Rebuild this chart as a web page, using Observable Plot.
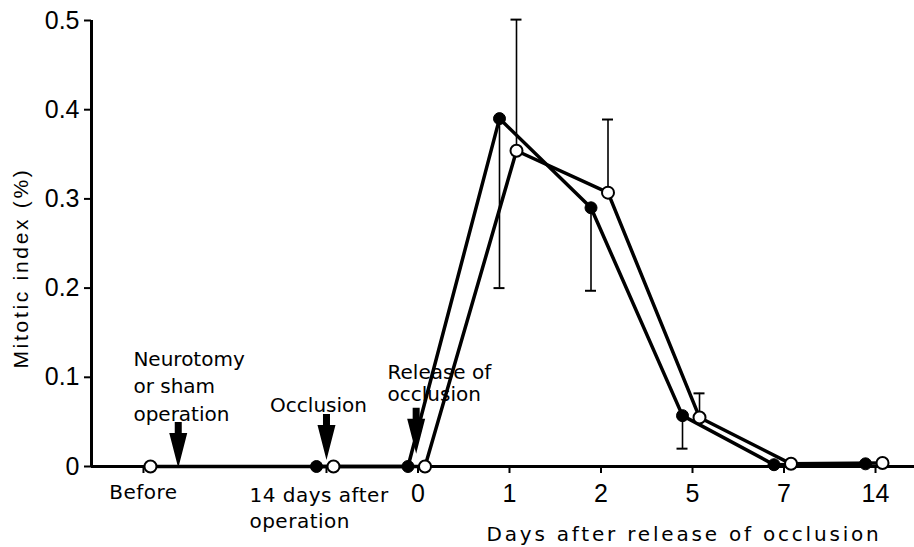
<!DOCTYPE html>
<html><head><meta charset="utf-8">
<script src="https://cdn.jsdelivr.net/npm/d3@7"></script>
<script src="https://cdn.jsdelivr.net/npm/@observablehq/plot@0.6"></script>
<style>body{margin:0;background:#fff} svg{display:block}</style>
</head><body><div id="chart"></div>
<script>
// Categories along the time axis (an empty slot sits between "Before" and "14 days after")
const categories = ["Before", "14 days after\noperation", "0", "1", "2", "5", "7", "14"];
const slots = [0, 2, 3, 4, 5, 6, 7, 8];
// Series: filled circles and open circles (mitotic index, %)
const filledValues = [null, 0, 0, 0.390, 0.290, 0.057, 0.002, 0.003];
const openValues   = [0, 0, 0, 0.354, 0.307, 0.055, 0.003, 0.004];
// Error bars: filled series extends downward, open series upward
const filledLower = [null, null, null, 0.200, 0.197, 0.020, null, null];
const openUpper   = [null, null, null, 0.501, 0.389, 0.082, null, null];
const yTicks = [0, 0.1, 0.2, 0.3, 0.4, 0.5];
const xTitle = "Days after release of occlusion";
const yTitle = "Mitotic index (%)";
const notes = ["Neurotomy\nor sham\noperation", "Occlusion", "Release of\nocclusion"];
const arrowSlots = [0.38, 2, 2.98];
const arrowLevels = [0.024, 0.033, 0.040];

const rows = categories.map((c, i) => ({
  cat: c, slot: slots[i], filled: filledValues[i], open: openValues[i],
  lo: filledLower[i], hi: openUpper[i]
}));
const filledRows = rows.filter(d => d.filled != null);
const openRows = rows.filter(d => d.open != null);
const loRows = rows.filter(d => d.lo != null);
const hiRows = rows.filter(d => d.hi != null);
const arrows = arrowSlots.map((s, i) => ({slot: s, level: arrowLevels[i]}));

const xDomain = [-0.568, 8.426];
const FD = -10, OD = 7;

const downArrow = {
  draw(ctx) {
    ctx.moveTo(-3.5, -23); ctx.lineTo(3.5, -23); ctx.lineTo(3.5, -12);
    ctx.lineTo(9, -12); ctx.lineTo(0, 23); ctx.lineTo(-9, -12);
    ctx.lineTo(-3.5, -12); ctx.closePath();
  }
};

const chart = Plot.plot({
  width: 914, height: 547,
  marginLeft: 91, marginRight: 0, marginTop: 20, marginBottom: 81,
  style: {fontFamily: "DejaVu Sans", background: "white", color: "black", overflow: "visible"},
  x: {type: "linear", domain: xDomain},
  y: {domain: [0, 0.5]},
  marks: [
    Plot.axisY({ticks: yTicks, tickFormat: d => d === 0 ? "0" : d.toFixed(1), tickSize: 7, tickPadding: 5,
      fontSize: 25, fontFamily: "Liberation Sans", strokeWidth: 2, label: null}),
    Plot.axisX({ticks: slots, tickFormat: s => { const i = slots.indexOf(s); return i >= 2 ? categories[i] : ""; },
      tickSize: 7, tickPadding: 11, fontSize: 25, fontFamily: "Liberation Sans", strokeWidth: 2, label: null}),
    Plot.ruleX([xDomain[0]], {strokeWidth: 3}),
    Plot.ruleY([0], {strokeWidth: 3}),
    // error bars
    Plot.ruleX(loRows, {x: "slot", y1: "filled", y2: "lo", dx: FD, strokeWidth: 1.6}),
    Plot.ruleY(loRows, {y: "lo", x1: d => d.slot - 0.06, x2: d => d.slot + 0.06, dx: FD, strokeWidth: 2}),
    Plot.ruleX(hiRows, {x: "slot", y1: "open", y2: "hi", dx: OD, strokeWidth: 1.6}),
    Plot.ruleY(hiRows, {y: "hi", x1: d => d.slot - 0.06, x2: d => d.slot + 0.06, dx: OD, strokeWidth: 2}),
    // lines
    Plot.line(filledRows, {x: "slot", y: "filled", dx: FD, stroke: "black", strokeWidth: 3.5}),
    Plot.line(openRows, {x: "slot", y: "open", dx: OD, stroke: "black", strokeWidth: 3.5}),
    // points
    Plot.dot(filledRows, {x: "slot", y: "filled", dx: FD, r: 6, fill: "black", stroke: "black", strokeWidth: 1}),
    Plot.dot(openRows, {x: "slot", y: "open", dx: OD, r: 6, fill: "white", stroke: "black", strokeWidth: 2}),
    // arrows
    Plot.dot(arrows, {x: "slot", y: "level", symbol: downArrow, fill: "black", stroke: "none"}),
    // annotations
    Plot.text([notes[0]], {x: -0.11, y: 0.135, textAnchor: "start", lineAnchor: "top", lineHeight: 1.375, fontSize: 20}),
    Plot.text([notes[1]], {x: 1.913, y: 0.0766, textAnchor: "middle", lineAnchor: "top", fontSize: 20}),
    Plot.text([notes[2]], {x: 2.667, y: 0.116, textAnchor: "start", lineAnchor: "top", lineHeight: 1.1, fontSize: 20}),
    // category labels in annotation font
    Plot.text([categories[0]], {x: slots[0], y: 0, dy: 18, textAnchor: "middle", lineAnchor: "top", fontSize: 20}),
    Plot.text([categories[1]], {x: 1.158, y: 0, dy: 17, textAnchor: "start", lineAnchor: "top", lineHeight: 1.3, fontSize: 20}),
    // titles
    Plot.text([xTitle], {x: 5.907, y: 0, dy: 60, textAnchor: "middle", lineAnchor: "top", fontSize: 20}),
    Plot.text([yTitle], {x: -1.333, y: 0.2225, rotate: -90, fontSize: 21, fontFamily: "Liberation Sans"})
  ]
});

d3.select(chart).selectAll("text").each(function() {
  const t = this.textContent;
  if (t === xTitle) this.setAttribute("letter-spacing", "2.8");
  else if (t === yTitle) this.setAttribute("letter-spacing", "2.7");
  else if (t.startsWith("14 days") || t === "Before") this.setAttribute("letter-spacing", "0.5");
});

document.getElementById("chart").appendChild(chart);
</script>
</body></html>
